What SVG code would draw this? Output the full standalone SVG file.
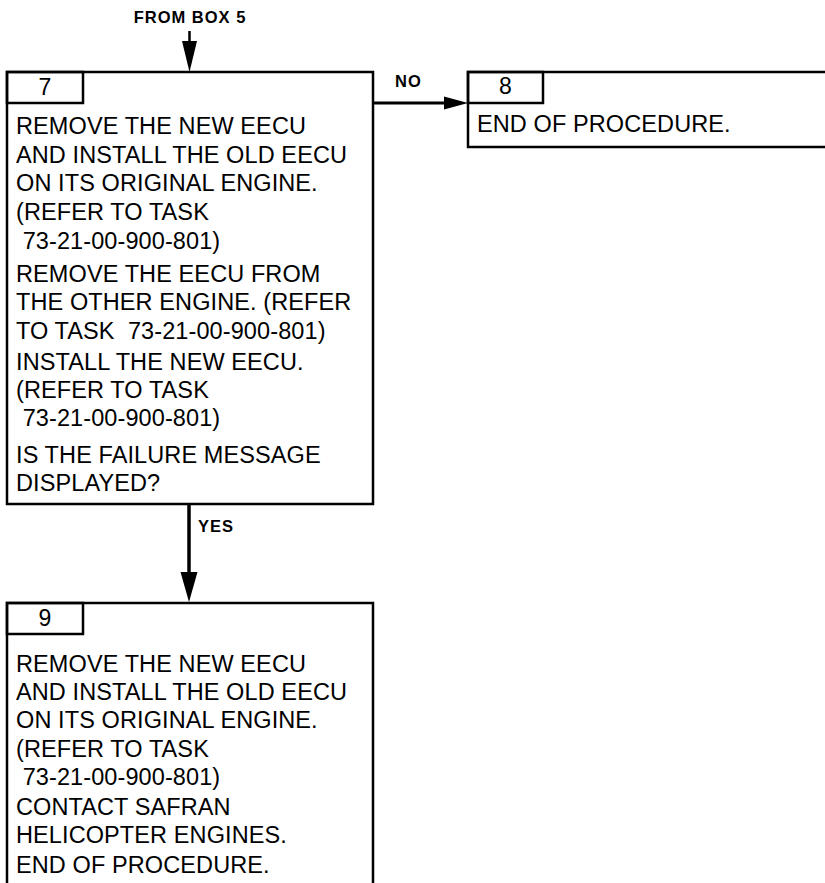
<svg xmlns="http://www.w3.org/2000/svg" width="825" height="883" viewBox="0 0 825 883">
<defs>
<style>
.box{fill:none;stroke:#000;stroke-width:2.5}
.conn{fill:none;stroke:#000;stroke-width:3.5}
.t{font-family:"Liberation Sans",Arial,sans-serif;font-size:23.5px;letter-spacing:0.1px;fill:#000}
.n{font-family:"Liberation Sans",Arial,sans-serif;font-size:23px;fill:#000;text-anchor:middle}
.lb{font-family:"Liberation Sans",Arial,sans-serif;font-size:16.5px;font-weight:bold;letter-spacing:1px;fill:#000}
</style>
<marker id="ahV" markerUnits="userSpaceOnUse" markerWidth="31" markerHeight="17" refX="0" refY="8.5" orient="auto" overflow="visible">
<path d="M0,0 L30,8.5 L0,17 Z" fill="#000"/>
</marker>
<marker id="ahS" markerUnits="userSpaceOnUse" markerWidth="32" markerHeight="15" refX="0" refY="7.5" orient="auto" overflow="visible">
<path d="M0,0 L31,7.5 L0,15 Z" fill="#000"/>
</marker>
<marker id="ahH" markerUnits="userSpaceOnUse" markerWidth="25" markerHeight="13" refX="0" refY="6.5" orient="auto" overflow="visible">
<path d="M0,0 L24,6.5 L0,13 Z" fill="#000"/>
</marker>
</defs>
<rect width="825" height="883" fill="#fff"/>

<g id="connectors">
<line class="conn" x1="189.5" y1="31" x2="189.5" y2="41" style="stroke-width:2.5" marker-end="url(#ahS)"/>
<line class="conn" x1="373" y1="103" x2="444" y2="103" style="stroke-width:3" marker-end="url(#ahH)"/>
<line class="conn" x1="189" y1="504" x2="189" y2="572" marker-end="url(#ahV)"/>
<text class="lb" x="190" y="23" text-anchor="middle">FROM BOX 5</text>
<text class="lb" x="395" y="87">NO</text>
<text class="lb" x="198" y="532">YES</text>
</g>

<g id="box7">
<rect class="box" x="7" y="72" width="366" height="432"/>
<rect class="box" x="7" y="72" width="76" height="31"/>
<text class="n" x="45" y="95">7</text>
<text class="t" x="16" y="134">REMOVE THE NEW EECU</text>
<text class="t" x="16" y="163">AND INSTALL THE OLD EECU</text>
<text class="t" x="16" y="191">ON ITS ORIGINAL ENGINE.</text>
<text class="t" x="16" y="220">(REFER TO TASK</text>
<text class="t" x="16" y="249" xml:space="preserve"> 73-21-00-900-801)</text>
<text class="t" x="16" y="282">REMOVE THE EECU FROM</text>
<text class="t" x="16" y="310">THE OTHER ENGINE. (REFER</text>
<text class="t" x="16" y="339" xml:space="preserve">TO TASK  73-21-00-900-801)</text>
<text class="t" x="16" y="370">INSTALL THE NEW EECU.</text>
<text class="t" x="16" y="398">(REFER TO TASK</text>
<text class="t" x="16" y="426" xml:space="preserve"> 73-21-00-900-801)</text>
<text class="t" x="16" y="463">IS THE FAILURE MESSAGE</text>
<text class="t" x="16" y="491">DISPLAYED?</text>
</g>

<g id="box8">
<rect class="box" x="468" y="72" width="400" height="75"/>
<rect class="box" x="468" y="72" width="75" height="31"/>
<text class="n" x="505.5" y="94">8</text>
<text class="t" x="477" y="132">END OF PROCEDURE.</text>
</g>

<g id="box9">
<path class="box" d="M7,890 V603 H373 V890"/>
<rect class="box" x="7" y="603" width="76" height="31"/>
<text class="n" x="45" y="626">9</text>
<text class="t" x="16" y="672">REMOVE THE NEW EECU</text>
<text class="t" x="16" y="700">AND INSTALL THE OLD EECU</text>
<text class="t" x="16" y="728">ON ITS ORIGINAL ENGINE.</text>
<text class="t" x="16" y="757">(REFER TO TASK</text>
<text class="t" x="16" y="785" xml:space="preserve"> 73-21-00-900-801)</text>
<text class="t" x="16" y="815">CONTACT SAFRAN</text>
<text class="t" x="16" y="843">HELICOPTER ENGINES.</text>
<text class="t" x="16" y="873">END OF PROCEDURE.</text>
</g>
</svg>
